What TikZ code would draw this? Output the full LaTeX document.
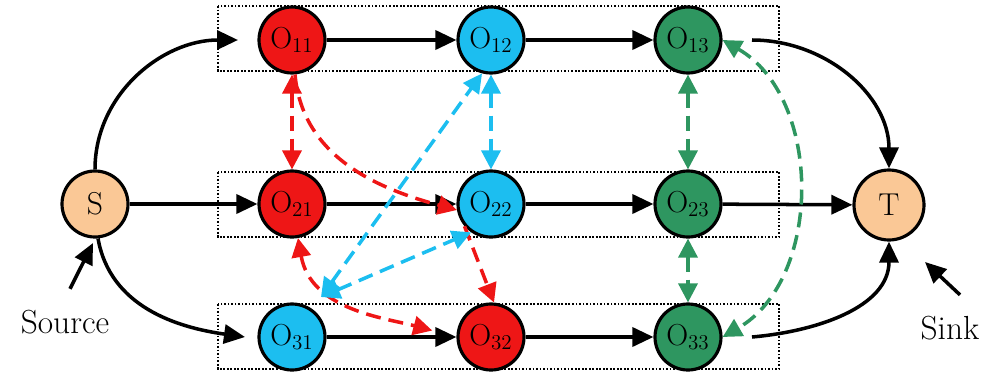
\documentclass[tikz,border=0pt]{standalone}
\usetikzlibrary{arrows.meta}
\definecolor{opred}{RGB}{238,22,22}
\definecolor{opblue}{RGB}{28,190,240}
\definecolor{opgreen}{RGB}{46,150,96}
\definecolor{term}{RGB}{250,200,150}
\begin{document}
\begin{tikzpicture}[x=0.2mm,y=-0.2mm,
  op/.style={circle,draw=black,line width=1.8pt,minimum size=13.2mm,inner sep=0pt,
    font=\fontsize{18}{21}\selectfont},
  flow/.style={line width=2pt,-{Triangle[length=4.2mm,width=3.8mm]}},
  dsh/.style={line width=2pt,dash pattern=on 3mm off 1.6mm},
  one/.style={-{Triangle[length=3.8mm,width=3.8mm]}},
  both/.style={{Triangle[length=3.8mm,width=3.8mm]}-{Triangle[length=3.8mm,width=3.8mm]}},
  row/.style={densely dotted,line width=1pt}]
\useasboundingbox (0,0) rectangle (995,374);
\foreach \y in {6,172,304}
\draw[row] (218,\y) rectangle (779,\y+65);
\foreach \n/\x/\y/\c in {11/292/40/opred,12/491/40/opblue,13/688/40/opgreen,
  21/292/204/opred,22/491/204/opblue,23/688/204/opgreen,
  31/292/337/opblue,32/491/337/opred,33/688/337/opgreen}
\node[op,fill=\c] (O\n) at (\x,\y) {$\mathrm{O}_{\n}$};
\node[op,fill=term] (S) at (95,204) {S};
\node[op,fill=term,minimum size=14mm] (T) at (889,205) {T};
\node[font=\fontsize{19}{22}\selectfont] (src) at (65,322) {Source};
\node[font=\fontsize{19}{22}\selectfont] (snk) at (950,328) {Sink};
\coordinate (in1) at (238,40);
\coordinate (in3) at (245,337);
\coordinate (out1) at (752,40);
\coordinate (out3) at (752,337);
\coordinate (tipS) at (93,243);
\coordinate (tipT) at (925,262);
\coordinate (b31) at (321,297);
\foreach \i in {1,2,3}
{\draw[flow] (O\i1) -- (O\i2);
\draw[flow] (O\i2) -- (O\i3);}
\draw[flow] (S.north) to[out=90,in=180] (in1);
\draw[flow] (S) -- (O21);
\draw[flow] (S.-85) to[out=-80,in=172] (in3);
\draw[flow] (out1) to[out=0,in=90] (T.north);
\draw[flow] (O23) -- (T);
\draw[flow] (out3) to[out=5,in=-90] (T.south);
\draw[flow] ([xshift=1mm,yshift=3mm]src.north) -- (tipS);
\draw[flow] ([xshift=2mm,yshift=3mm]snk.north) -- (tipT);
\draw[dsh,both,opred] (O11) -- (O21);
\draw[dsh,one,opred] (O11.-85) to[out=-85,in=165] (O22.190);
\draw[dsh,one,opred] (O22.220) -- (O32.85);
\draw[dsh,both,opred,shorten >=5mm] (O21.-80) to[out=-80,in=165] (O32.west);
\draw[dsh,both,opblue] (O12) -- (O22);
\draw[dsh,both,opblue] (b31) -- (O12.255);
\draw[dsh,both,opblue] (b31) -- (O22.235);
\draw[dsh,both,opgreen] (O13) -- (O23);
\draw[dsh,both,opgreen] (O23) -- (O33);
\draw[dsh,both,opgreen] (O13.east) to[out=-30,in=30] (O33.east);
\end{tikzpicture}
\end{document}
